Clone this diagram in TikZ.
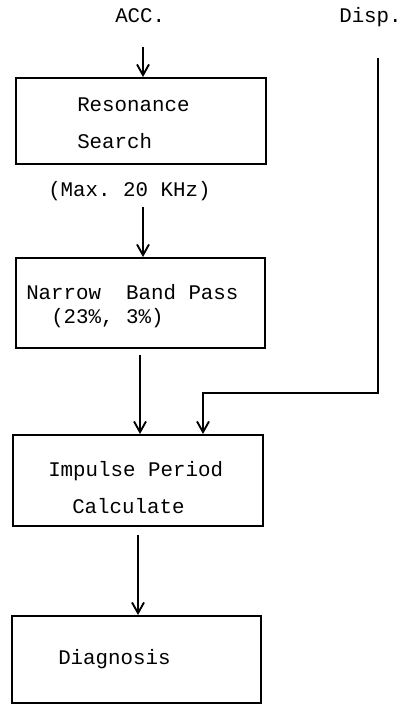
\documentclass[tikz,border=0pt]{standalone}
\usepackage{fontspec}
\setmonofont{Liberation Mono}
\usetikzlibrary{arrows.meta}
\begin{document}
\begin{tikzpicture}[x=0.75pt,y=-0.75pt,
  box/.style={draw, line width=1.4pt, inner sep=0pt, anchor=north west},
  lbl/.style={inner sep=0pt, anchor=base west, font=\ttfamily\fontsize{15.6pt}{18pt}\selectfont},
  arr/.style={line width=1.4pt, -{Straight Barb[length=8pt,width=9pt,line width=1.4pt]}}]
\useasboundingbox (0,0) rectangle (401,705);
% boxes
\node[box, minimum width=187.5pt, minimum height=64.5pt] (b1) at (15,77) {};
\node[box, minimum width=186.75pt, minimum height=67.5pt] (b2) at (15,257) {};
\node[box, minimum width=187.5pt, minimum height=68.25pt] (b3) at (12,434) {};
\node[box, minimum width=186.75pt, minimum height=65.25pt] (b4) at (11,615) {};
% texts
\node[lbl] (acc) at (115,23) {ACC.};
\node[lbl] (disp) at (339,23) {Disp.};
\node[lbl] (t1a) at (77,112) {Resonance};
\node[lbl] (t1b) at (77,149) {Search};
\node[lbl] (max) at (48,197) {(Max. 20 KHz)};
\node[lbl] (t2a) at (26,300) {Narrow\ \ Band Pass};
\node[lbl] (t2b) at (51,324) {(23\%, 3\%)};
\node[lbl] (t3a) at (48,476) {Impulse Period};
\node[lbl] (t3b) at (72,513) {Calculate};
\node[lbl] (t4) at (58,664) {Diagnosis};
% connectors
\coordinate (a0) at (143,47);
\draw[arr] (a0) -- (a0 |- b1.north);
\coordinate (m0) at (143,207);
\draw[arr] (m0) -- (m0 |- b2.north);
\coordinate (n0) at (140,355);
\draw[arr] (n0) -- (n0 |- b3.north);
\coordinate (d0) at (378,58);
\coordinate (d1) at (378,393);
\coordinate (d2) at (203,393);
\draw[arr] (d0) -- (d1) -- (d2) -- (d2 |- b3.north);
\coordinate (c0) at (138,535);
\draw[arr] (c0) -- (c0 |- b4.north);
\end{tikzpicture}
\end{document}
